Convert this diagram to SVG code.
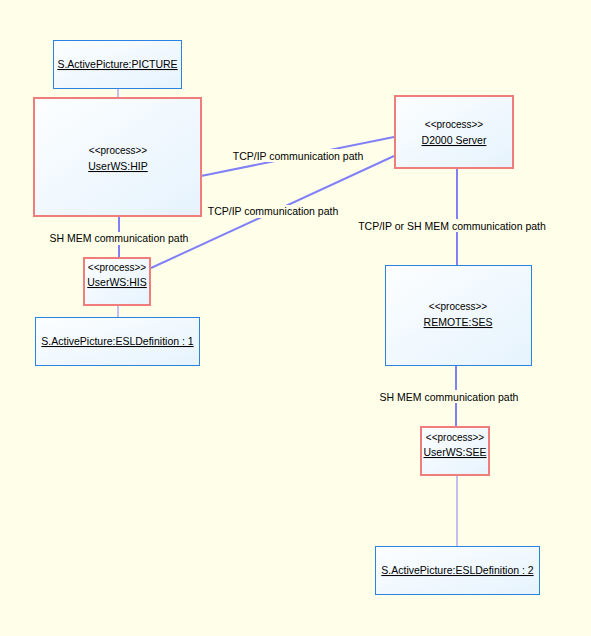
<svg xmlns="http://www.w3.org/2000/svg" width="591" height="636" viewBox="0 0 591 636">
<defs>
<linearGradient id="fill" x1="0" y1="0" x2="1" y2="1">
<stop offset="0" stop-color="#FCFEFF"/>
<stop offset="1" stop-color="#E6F3FD"/>
</linearGradient>
<style>
.obj{fill:url(#fill);stroke:#2A83E0;stroke-width:1}
.proc{fill:url(#fill);stroke:#F07C7C;stroke-width:2}
.st{font-family:"Liberation Sans",Arial,sans-serif;font-size:10px;fill:#000;text-anchor:middle}
.nm{font-family:"Liberation Sans",Arial,sans-serif;font-size:10.5px;fill:#000;text-anchor:middle;text-decoration:underline}
.lbl{font-family:"Liberation Sans",Arial,sans-serif;font-size:10.5px;fill:#000;text-anchor:middle}
.thick{stroke:#8080F8;stroke-width:2;fill:none}
.thin{stroke:#8080F8;stroke-width:1;fill:none}
.bg{fill:#FFFFE9}
</style>
</defs>
<rect x="0" y="0" width="591" height="636" fill="#FFFFE9"/>
<g id="connectors">
<line class="thin" x1="118" y1="88" x2="118" y2="98"/>
<line class="thick" x1="119" y1="216" x2="119" y2="258"/>
<line class="thin" x1="118" y1="305" x2="118" y2="317"/>
<line class="thick" x1="201" y1="176" x2="394" y2="137"/>
<line class="thick" x1="151" y1="268" x2="394" y2="156"/>
<line class="thick" x1="457" y1="168" x2="457" y2="266"/>
<line class="thick" x1="456" y1="365" x2="456" y2="427"/>
<line class="thin" x1="457" y1="476" x2="457" y2="547"/>
<rect class="bg" x="230" y="149" width="135" height="13"/>
<rect class="bg" x="205" y="205" width="135" height="13"/>
<rect class="bg" x="48" y="232" width="142" height="13"/>
<rect class="bg" x="356" y="219" width="192" height="13"/>
<rect class="bg" x="378" y="390" width="142" height="13"/>
<text class="lbl" x="298" y="159.5">TCP/IP communication path</text>
<text class="lbl" x="273" y="215">TCP/IP communication path</text>
<text class="lbl" x="119" y="242">SH MEM communication path</text>
<text class="lbl" x="452" y="229.5">TCP/IP or SH MEM communication path</text>
<text class="lbl" x="449" y="400.5">SH MEM communication path</text>
</g>
<g id="picture">
<rect class="obj" x="53.5" y="40.5" width="128" height="48"/>
<text class="nm" x="117.5" y="68">S.ActivePicture:PICTURE</text>
</g>
<g id="hip">
<rect class="proc" x="34" y="98" width="167" height="118"/>
<text class="st" x="118" y="154">&lt;&lt;process&gt;&gt;</text>
<text class="nm" x="118" y="170">UserWS:HIP</text>
</g>
<g id="his">
<rect class="proc" x="84" y="258" width="66" height="47"/>
<text class="st" x="117" y="271">&lt;&lt;process&gt;&gt;</text>
<text class="nm" x="117" y="286">UserWS:HIS</text>
</g>
<g id="esl1">
<rect class="obj" x="35.5" y="317.5" width="164" height="48"/>
<text class="nm" x="117.5" y="345">S.ActivePicture:ESLDefinition : 1</text>
</g>
<g id="d2000">
<rect class="proc" x="395" y="96" width="118" height="72"/>
<text class="st" x="454" y="128">&lt;&lt;process&gt;&gt;</text>
<text class="nm" x="454" y="144">D2000 Server</text>
</g>
<g id="ses">
<rect class="obj" x="385.5" y="265.5" width="146" height="100"/>
<text class="st" x="458" y="310">&lt;&lt;process&gt;&gt;</text>
<text class="nm" x="458" y="326">REMOTE:SES</text>
</g>
<g id="see">
<rect class="proc" x="421" y="427" width="68" height="48"/>
<text class="st" x="455" y="441">&lt;&lt;process&gt;&gt;</text>
<text class="nm" x="455" y="456">UserWS:SEE</text>
</g>
<g id="esl2">
<rect class="obj" x="375.5" y="546.5" width="164" height="48"/>
<text class="nm" x="457.5" y="574">S.ActivePicture:ESLDefinition : 2</text>
</g>
</svg>
